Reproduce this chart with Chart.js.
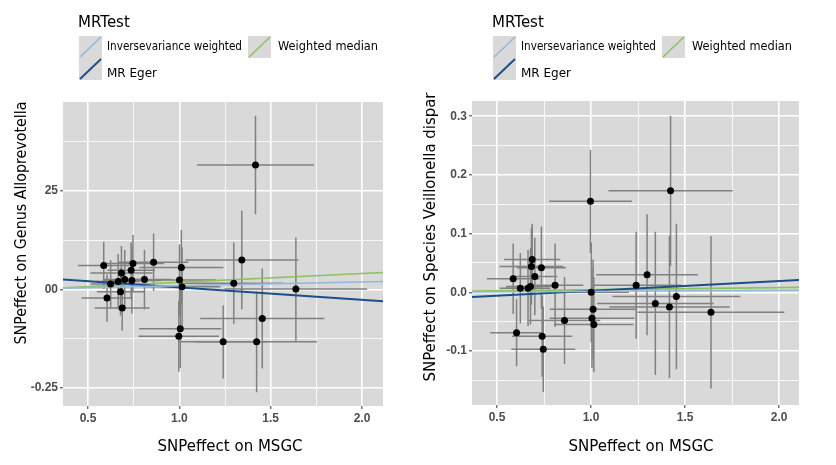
<!DOCTYPE html>
<html>
<head>
<meta charset="utf-8">
<script src="https://cdn.jsdelivr.net/npm/chart.js@4"></script>
<style>
  body { margin: 0; background: #fff; }
  .panel { position: absolute; top: 0; width: 418px; height: 465px; }
</style>
</head>
<body>
<div class="panel" style="left:0"><canvas id="alloChart" width="418" height="465"></canvas></div>
<div class="panel" style="left:418px"><canvas id="veilChart" width="418" height="465"></canvas></div>
<script>
// SNP effects on the exposure (shared by both panels)
const msgcBeta = [0.586, 0.604, 0.624, 0.665, 0.678, 0.683, 0.687, 0.701, 0.736, 0.740, 0.746, 0.809, 0.859,
  0.997, 1.001, 1.005, 1.011, 1.015, 1.240, 1.298, 1.342, 1.417, 1.423, 1.454, 1.638];
const msgcSe = [0.14, 0.14, 0.11, 0.12, 0.13, 0.17, 0.15, 0.12, 0.13, 0.16, 0.17, 0.15, 0.19,
  0.22, 0.20, 0.225, 0.23, 0.21, 0.24, 0.27, 0.31, 0.32, 0.33, 0.34, 0.39];

// outcome: Genus Alloprevotella
const alloBeta = [0.061, -0.022, 0.014, 0.020, -0.006, 0.042, -0.047, 0.025, 0.049, 0.023, 0.066, 0.025, 0.069,
  -0.119, 0.024, -0.100, 0.056, 0.007, -0.133, 0.016, 0.075, 0.316, -0.133, -0.074, 0.001];
const alloSe = [0.06, 0.06, 0.06, 0.07, 0.06, 0.068, 0.058, 0.075, 0.071, 0.085, 0.072, 0.075, 0.073,
  0.09, 0.09, 0.10, 0.095, 0.10, 0.093, 0.103, 0.125, 0.125, 0.128, 0.127, 0.131];

// outcome: Species Veillonella dispar
const veilBeta = [0.023, -0.069, 0.007, 0.007, 0.010, 0.044, 0.056, 0.027, 0.042, -0.075, -0.097, 0.012, -0.048,
  0.155, 0.000, -0.044, -0.029, -0.055, 0.012, 0.030, -0.019, -0.025, 0.173, -0.007, -0.034];
const veilSe = [0.06, 0.057, 0.06, 0.065, 0.065, 0.065, 0.061, 0.066, 0.07, 0.069, 0.073, 0.071, 0.074,
  0.088, 0.085, 0.085, 0.085, 0.081, 0.091, 0.103, 0.122, 0.121, 0.128, 0.124, 0.13];

// MR method fits
const methodNames = ['Inversevariance weighted', 'MR Eger', 'Weighted median'];
const methodColors = ['#93b8db', '#1d4e89', '#8dc25f'];
const alloSlope = [0.0095, -0.0314, 0.0223];
const alloIntercept = [0, 0.0364, -0.004];
const veilSlope = [0.0017, 0.0167, 0.0037];
const veilIntercept = [0, -0.0141, 0.0006];

// ticks
const xTicks = [0.5, 1.0, 1.5, 2.0];
const xTickLabels = ['0.5', '1.0', '1.5', '2.0'];
const alloTicks = [-0.25, 0, 0.25];
const alloTickLabels = ['-0.25', '00', '25'];
const veilTicks = [-0.1, 0, 0.1, 0.2, 0.3];
const veilTickLabels = ['-0.1', '0.0', '0.1', '0.2', '0.3'];

const legendTitle = 'MRTest';
const xTitle = 'SNPeffect on MSGC';

const panelGrey = '#d9d9d9';
const titleFont = '15px "DejaVu Sans"';

function minorTicks(majors, min, max) {
  const step = majors[1] - majors[0];
  const out = majors.map(m => m - step / 2);
  out.push(majors[majors.length - 1] + step / 2);
  return out.filter(v => v > min && v < max);
}

function buildAxis(majors, labels, min, max, isX, size, tickLen, pad) {
  const minors = minorTicks(majors, min, max);
  const isMajor = v => majors.some(m => Math.abs(m - v) < 1e-9);
  return {
    type: 'linear',
    position: isX ? 'bottom' : 'left',
    min: min,
    max: max,
    afterBuildTicks: s => {
      s.ticks = majors.concat(minors).sort((a, b) => a - b).map(v => ({ value: v }));
    },
    afterFit: s => {
      if (isX) s.height = size; else s.width = size;
    },
    grid: {
      color: '#ffffff',
      lineWidth: c => (c.tick && isMajor(c.tick.value)) ? 1.6 : 0.8,
      tickColor: c => (c.tick && isMajor(c.tick.value)) ? '#333333' : 'rgba(0,0,0,0)',
      tickWidth: 1,
      tickLength: tickLen
    },
    border: { display: false },
    ticks: {
      autoSkip: false,
      maxRotation: 0,
      padding: pad,
      color: '#4d4d4d',
      font: { family: '"Liberation Sans", Arial', size: 12, weight: 'bold' },
      callback: v => {
        const i = majors.findIndex(m => Math.abs(m - v) < 1e-9);
        return i >= 0 ? labels[i] : '';
      }
    }
  };
}

function makePanel(canvasId, outBeta, outSe, slopes, intercepts, yMajors, yLabels, yRange, xRange, box, text) {
  const lineSets = methodNames.map((name, k) => ({
    label: name,
    data: xRange.map(x => ({ x: x, y: intercepts[k] + slopes[k] * x })),
    showLine: true,
    borderColor: methodColors[k],
    borderWidth: k === 1 ? 2 : 1.6,
    pointRadius: 0,
    order: 1
  }));

  const decor = {
    id: 'decor_' + canvasId,
    beforeDraw(chart) {
      const { ctx, chartArea: a } = chart;
      ctx.save();
      ctx.fillStyle = panelGrey;
      ctx.fillRect(a.left, a.top, a.right - a.left, a.bottom - a.top);
      ctx.restore();
    },
    beforeDatasetsDraw(chart) {
      const { ctx, chartArea: a, scales } = chart;
      const xs = scales.x, ys = scales.y;
      ctx.save();
      ctx.beginPath();
      ctx.rect(a.left, a.top, a.right - a.left, a.bottom - a.top);
      ctx.clip();
      ctx.strokeStyle = '#808080';
      ctx.lineWidth = 1.5;
      outBeta.forEach((b, i) => {
        const px = xs.getPixelForValue(msgcBeta[i]);
        const py = ys.getPixelForValue(b);
        ctx.beginPath();
        ctx.moveTo(xs.getPixelForValue(msgcBeta[i] - msgcSe[i]), py);
        ctx.lineTo(xs.getPixelForValue(msgcBeta[i] + msgcSe[i]), py);
        ctx.moveTo(px, ys.getPixelForValue(b - outSe[i]));
        ctx.lineTo(px, ys.getPixelForValue(b + outSe[i]));
        ctx.stroke();
      });
      ctx.restore();
    },
    afterDraw(chart) {
      const ctx = chart.ctx;
      ctx.save();
      // legend
      const lx = text.legendX;
      ctx.fillStyle = '#000';
      ctx.font = titleFont;
      ctx.textBaseline = 'alphabetic';
      ctx.textAlign = 'left';
      ctx.fillText(legendTitle, lx, 27);
      const slots = [[0, 0], [0, 1], [1, 0]];
      const colX = [1, 170];
      const rowY = [36, 58];
      const labX = [29, 200];
      const labY = [47, 74];
      const labW = [135, 52, 100];
      methodNames.forEach((name, k) => {
        const [c, r] = slots[k];
        const bx = lx + colX[c], by = rowY[r];
        ctx.fillStyle = panelGrey;
        ctx.fillRect(bx, by, 23, 22);
        ctx.strokeStyle = methodColors[k];
        ctx.lineWidth = k === 1 ? 2 : 1.6;
        ctx.beginPath();
        ctx.moveTo(bx + 1, by + 21);
        ctx.lineTo(bx + 22, by + 1);
        ctx.stroke();
        ctx.fillStyle = '#000';
        ctx.font = '12px "DejaVu Sans"';
        ctx.textBaseline = 'middle';
        ctx.fillText(name, lx + labX[c], labY[r], labW[k]);
      });
      // x title
      ctx.font = titleFont;
      ctx.textAlign = 'center';
      ctx.textBaseline = 'alphabetic';
      ctx.fillText(xTitle, text.xTitleX, 451, 153);
      // y title
      ctx.translate(text.yTitleX, text.yTitleY);
      ctx.rotate(-Math.PI / 2);
      ctx.textBaseline = 'middle';
      ctx.fillText(text.yTitle, 0, 0, text.yTitleW);
      ctx.restore();
    }
  };

  return new Chart(document.getElementById(canvasId), {
    type: 'scatter',
    data: {
      datasets: [{
        label: 'SNP',
        data: msgcBeta.map((x, i) => ({ x: x, y: outBeta[i] })),
        pointRadius: 3.5,
        pointBackgroundColor: '#000',
        pointBorderWidth: 0,
        order: 0
      }].concat(lineSets)
    },
    options: {
      responsive: false,
      animation: false,
      layout: { padding: { left: 0, right: box.right, top: box.top, bottom: 0 } },
      plugins: { legend: { display: false }, tooltip: { enabled: false } },
      scales: {
        x: buildAxis(xTicks, xTickLabels, xRange[0], xRange[1], true, box.xHeight, 3, 2),
        y: buildAxis(yMajors, yLabels, yRange[0], yRange[1], false, box.yWidth, 3, 2)
      }
    },
    plugins: [decor]
  });
}

makePanel('alloChart', alloBeta, alloSe, alloSlope, alloIntercept, alloTicks, alloTickLabels,
  [-0.296, 0.476], [0.363, 2.115],
  { top: 102, right: 35, xHeight: 59, yWidth: 63 },
  { legendX: 78, xTitleX: 230, yTitle: 'SNPeffect on Genus Alloprevotella', yTitleX: 22, yTitleY: 223, yTitleW: 243 });

makePanel('veilChart', veilBeta, veilSe, veilSlope, veilIntercept, veilTicks, veilTickLabels,
  [-0.192, 0.326], [0.367, 2.106],
  { top: 101, right: 37, xHeight: 60, yWidth: 54 },
  { legendX: 74, xTitleX: 223, yTitle: 'SNPeffect on Species Veillonella dispar', yTitleX: 13, yTitleY: 237, yTitleW: 289 });
</script>
</body>
</html>
